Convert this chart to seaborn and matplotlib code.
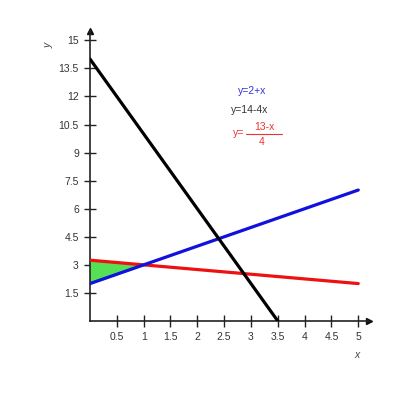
import numpy as np
import pandas as pd
import seaborn as sns
import matplotlib.pyplot as plt

# line end points
blue_x = [0, 5]
blue_y = [2, 7]
black_x = [0, 3.5]
black_y = [14, 0]
red_x = [0, 5]
red_y = [3.25, 2]
# shaded region between the red and blue lines
fill_x = [0, 1]
fill_top = [3.25, 3]
fill_bot = [2, 3]

xticks = [0.5, 1, 1.5, 2, 2.5, 3, 3.5, 4, 4.5, 5]
yticks = [1.5, 3, 4.5, 6, 7.5, 9, 10.5, 12, 13.5, 15]

sns.set_style("white")
plt.rcParams['font.family'] = ['Liberation Sans', 'DejaVu Sans']

fig = plt.figure(figsize=(4, 4), dpi=100)
ax = fig.add_axes([0.225, 0.1975, 0.6975, 0.725])

ax.fill_between(fill_x, fill_bot, fill_top, color='#55e055', zorder=1)
df_b = pd.DataFrame({'x': blue_x, 'y': blue_y})
df_k = pd.DataFrame({'x': black_x, 'y': black_y})
df_r = pd.DataFrame({'x': red_x, 'y': red_y})
sns.lineplot(data=df_r, x='x', y='y', ax=ax, color='#ee1111', lw=2.3, zorder=3)
sns.lineplot(data=df_b, x='x', y='y', ax=ax, color='#1111dd', lw=2.3, zorder=4)
sns.lineplot(data=df_k, x='x', y='y', ax=ax, color='black', lw=2.3, zorder=5)

ax.set_xlim(0, 5.2)
ax.set_ylim(0, 15.5)
for s in ['top', 'right']:
    ax.spines[s].set_visible(False)
for s in ['left', 'bottom']:
    ax.spines[s].set_color('#222222')
    ax.spines[s].set_linewidth(1.2)
ax.plot(1, 0, '>', color='#111111', ms=5, transform=ax.transAxes, clip_on=False)
ax.plot(0, 1, '^', color='#111111', ms=5, transform=ax.transAxes, clip_on=False)

ax.set_xticks(xticks)
ax.set_yticks(yticks)
ax.set_xticklabels([f'{t:g}' for t in xticks])
ax.set_yticklabels([f'{t:g}' for t in yticks])
ax.tick_params(bottom=True, left=True, direction='inout', length=8, width=1,
               color='#222222', labelsize=7.5, labelcolor='#333333', pad=4)
ax.set_xlabel('')
ax.set_ylabel('')
fig.text(0.885, 0.105, 'x', style='italic', fontsize=7.5, color='#444444')
fig.text(0.11, 0.885, 'y', style='italic', fontsize=7.5, color='#444444', rotation=90)

# legend-like labels
fig.text(0.63, 0.7725, 'y=2+x', color='#3333dd', fontsize=7.5, ha='center', va='center')
fig.text(0.625, 0.725, 'y=14-4x', color='#333333', fontsize=7.5, ha='center', va='center')
fig.text(0.596, 0.6675, 'y=', color='#ee3333', fontsize=7.5, ha='center', va='center')
fig.text(0.66, 0.6825, '13-x', color='#ee3333', fontsize=7.5, ha='center', va='center')
fig.text(0.655, 0.645, '4', color='#ee3333', fontsize=7.5, ha='center', va='center')
fig.add_artist(plt.Line2D([0.615, 0.705], [0.6645, 0.6645], color='#ee3333', lw=0.8))

fig.savefig('out.png', dpi=100)
